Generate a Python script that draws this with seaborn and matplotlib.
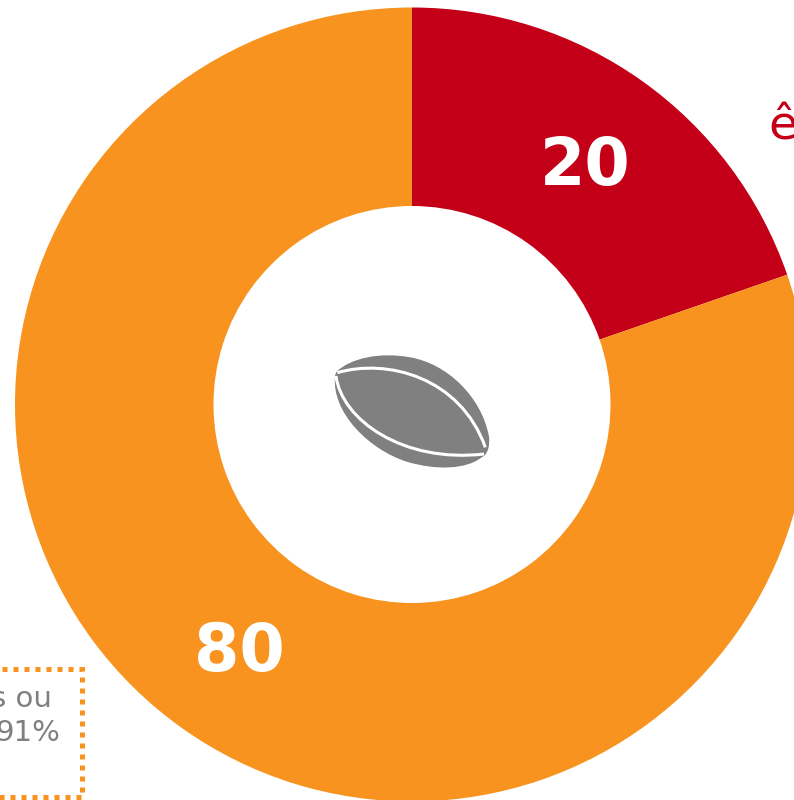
import matplotlib
matplotlib.use("Agg")
import matplotlib.pyplot as plt
from matplotlib.path import Path
from matplotlib.patches import PathPatch, Rectangle
import seaborn as sns

shares = [19.7, 80.3]
share_labels = ["20", "80"]
slice_colors = ["#C40018", "#F7931E"]
clipped_label = "ê"
note_lines = ["s ou", "91%"]

sns.set_theme(style="white")
plt.rcParams["font.family"] = ["DejaVu Sans"]

fig = plt.figure(figsize=(7.94, 8.0), dpi=100)
ax = fig.add_axes([0, 0, 1, 1])

CX, CY, R = 412, 395.5, 397
ax.pie(shares, colors=slice_colors, startangle=90, counterclock=False,
       center=(CX, CY), radius=R, frame=True,
       wedgeprops={"width": R - 198.5, "linewidth": 0})
ax.set_xlim(0, 794)
ax.set_ylim(0, 800)
ax.set_aspect("equal")
ax.axis("off")

# image-pixel y -> axes y
Y = lambda y: 800 - y

ax.text(585, Y(167), share_labels[0], color="white", fontsize=47, fontweight="bold",
        ha="center", va="center")
ax.text(239, Y(653), share_labels[1], color="white", fontsize=47, fontweight="bold",
        ha="center", va="center")
ax.text(768, Y(139), clipped_label, color=slice_colors[0], fontsize=34,
        ha="left", va="baseline", clip_on=True)

ax.add_patch(Rectangle((-12, Y(797)), 94, 128, fill=False, edgecolor=slice_colors[1],
                       linewidth=3.6, linestyle=(0, (1, 1.2)), clip_on=True))
ax.text(52, Y(707), note_lines[0], color="#808080", fontsize=21, ha="right", va="baseline")
ax.text(60, Y(741), note_lines[1], color="#808080", fontsize=21, ha="right", va="baseline")

# rugby ball icon, traced in zoom-crop coordinates
def z(x, y):
    return (310 + x / 3, Y(330 + y / 3))

M, C = Path.MOVETO, Path.CURVE4
outline = [z(80, 125), z(120, 85), z(210, 65), z(300, 82),
           z(410, 100), z(515, 200), z(537, 320),
           z(540, 350), z(532, 375), z(515, 382),
           z(470, 418), z(380, 422), z(290, 395),
           z(180, 360), z(65, 250), z(75, 140),
           z(76, 132), z(78, 128), z(80, 125)]
ax.add_patch(PathPatch(Path(outline, [M] + [C] * 18), facecolor="#808080", edgecolor="none"))
seam_top = [z(82, 128), z(230, 85), z(450, 140), z(526, 352)]
seam_low = [z(78, 138), z(95, 270), z(280, 400), z(522, 372)]
for seam in (seam_top, seam_low):
    ax.add_patch(PathPatch(Path(seam, [M, C, C, C]), facecolor="none", edgecolor="white", linewidth=2.2))

fig.savefig("out.png", dpi=100, facecolor="white")
